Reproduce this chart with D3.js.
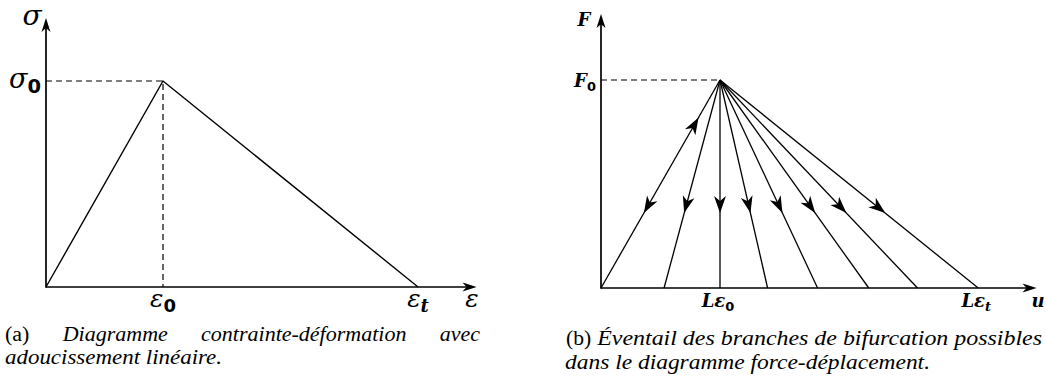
<!DOCTYPE html>
<html><head><meta charset="utf-8">
<script src="https://cdn.jsdelivr.net/npm/d3@7"></script>
<style>
body{margin:0;background:#fff}svg{display:block}
.cap{font-family:'Liberation Serif','Times New Roman','DejaVu Serif',serif;font-size:20px}
.m{font-family:'DejaVu Serif',serif}
.ms{font-family:'DejaVu Sans',sans-serif}
</style>
</head><body><svg id="c" width="1046" height="382"></svg>
<script>
// (a) stress-strain law with linear softening, normalised by ε0 and σ0
const strain = [0, 1, 3.18];
const stress = [0, 1, 0];
const strainTicks = [{ v: 1, base: "ε", sub: "0" }, { v: 3.18, base: "ε", sub: "t" }];

// (b) fan of possible bifurcation branches, normalised by Lε0 and F0
const peakU = 1, peakF = 1;
const branchEnds = [0, 0.53, 1, 1.40, 1.82, 2.25, 2.66, 3.17];
const dispTicks = [{ v: 1, base: "Lε", sub: "0" }, { v: 3.17, base: "Lε", sub: "t" }];

// captions
const capA1 = ["(a)", "Diagramme", "contrainte-déformation", "avec"];
const capA2 = "adoucissement linéaire.";
const capB1 = ["(b)", "Éventail des branches de bifurcation possibles"];
const capB2 = "dans le diagramme force-déplacement.";

const svg = d3.select("#c");

// stealth-style arrowhead with its tip at (x, y), pointing along angle a
function arrowHead(g, x, y, a, len = 15, half = 5) {
  const deg = a * 180 / Math.PI;
  g.append("path")
    .attr("d", `M0,0 L${-len},${-half} L${-len * 0.72},0 L${-len},${half} Z`)
    .attr("transform", `translate(${x},${y}) rotate(${deg})`)
    .attr("fill", "#000");
}

function axisArrows(g, xMax, yMax, sx, sy) {
  g.append("line").attr("x1", sx(0)).attr("y1", sy(0)).attr("x2", sx(xMax) - 4).attr("y2", sy(0))
    .attr("stroke", "#000").attr("stroke-width", 1.7);
  g.append("line").attr("x1", sx(0)).attr("y1", sy(0) + 0.8).attr("x2", sx(0)).attr("y2", sy(yMax) + 4)
    .attr("stroke", "#000").attr("stroke-width", 1.7);
  arrowHead(g, sx(xMax), sy(0), 0, 14, 4.5);
  arrowHead(g, sx(0), sy(yMax), -Math.PI / 2, 14, 4.5);
}

function mathLabel(g, x, y, base, sub, size, opts = {}) {
  const t = g.append("text").attr("x", x).attr("y", y)
    .attr("class", "m")
    .attr("text-anchor", opts.anchor || "middle")
    .attr("font-style", "italic")
    .attr("font-weight", opts.weight || "normal").attr("font-size", size);
  t.append("tspan").text(base);
  if (sub) {
    t.append("tspan").attr("dy", size * 0.2)
      .attr("class", opts.subItalic ? "m" : "ms")
      .attr("font-style", opts.subItalic ? "italic" : "normal")
      .attr("font-weight", "bold")
      .attr("font-size", size * 0.72).text(sub);
  }
  return t;
}

// ---------- (a) ----------
const gA = svg.append("g");
const xA = d3.scaleLinear().domain([0, 1]).range([46, 163]);
const yA = d3.scaleLinear().domain([0, 1]).range([287, 81]);

gA.append("path")
  .attr("d", d3.line().x((d, i) => xA(strain[i])).y(d => yA(d))(stress))
  .attr("fill", "none").attr("stroke", "#000").attr("stroke-width", 1.4);

// guide lines to the peak
gA.append("path")
  .attr("d", `M${xA(0)},${yA(1)}H${xA(strain[1])}V${yA(0)}`)
  .attr("fill", "none").attr("stroke", "#000").attr("stroke-width", 1.2)
  .attr("stroke-dasharray", "6,4");

axisArrows(gA, 3.68, 1.306, xA, yA);

mathLabel(gA, 32, 25, "σ", null, 28);
mathLabel(gA, 25, 88, "σ", "0", 27);
strainTicks.forEach(t => {
  mathLabel(gA, xA(t.v), 307, t.base, t.sub, 25, { subItalic: t.sub === "t" });
});
mathLabel(gA, 472, 307, "ε", null, 25);

// ---------- (b) ----------
const gB = svg.append("g");
const xB = d3.scaleLinear().domain([0, 1]).range([601, 720]);
const yB = d3.scaleLinear().domain([0, 1]).range([288, 80]);

gB.append("path")
  .attr("d", `M${xB(0)},${yB(peakF)}H${xB(peakU)}`)
  .attr("fill", "none").attr("stroke", "#000").attr("stroke-width", 1.2)
  .attr("stroke-dasharray", "6,4");

branchEnds.forEach((u, i) => {
  const x0 = xB(peakU), y0 = yB(peakF), x1 = xB(u), y1 = yB(0);
  gB.append("line").attr("x1", x0).attr("y1", y0).attr("x2", x1).attr("y2", y1)
    .attr("stroke", "#000").attr("stroke-width", 1.3);
  const a = Math.atan2(y1 - y0, x1 - x0);
  const f = 0.64;
  arrowHead(gB, x0 + (x1 - x0) * f, y0 + (y1 - y0) * f, a, 17, 6);
  if (i === 0) {
    // loading path up to the peak
    const g2 = 0.18;
    arrowHead(gB, x0 + (x1 - x0) * g2, y0 + (y1 - y0) * g2, a + Math.PI, 17, 6);
  }
});

axisArrows(gB, 3.66, 1.317, xB, yB);

mathLabel(gB, 584, 26, "F", null, 18, { weight: "bold" });
mathLabel(gB, 585, 87, "F", "0", 18, { weight: "bold" });
dispTicks.forEach(t => {
  mathLabel(gB, xB(t.v) - 2, 307, t.base, t.sub, 18, { weight: "bold", subItalic: t.sub === "t" });
});
mathLabel(gB, 1038, 307, "u", null, 18, { weight: "bold" });

// ---------- captions ----------
function capText(x, y, str, italic) {
  return svg.append("text").attr("x", x).attr("y", y).attr("class", "cap")
    .attr("font-style", italic ? "italic" : "normal").text(str);
}

// fits a line to the given width by stretching glyphs slightly
function fit(t, w) {
  t.attr("textLength", w).attr("lengthAdjust", "spacingAndGlyphs");
}

// justified first line of caption (a)
(function () {
  const left = 5, right = 480, y = 341;
  const words = capA1.map((w, i) => capText(0, y, w, i > 0));
  const widths = words.map(t => t.node().getComputedTextLength());
  const scale = 1.1;
  const total = d3.sum(widths) * scale;
  const gap = (right - left - total) / (words.length - 1);
  let x = left;
  words.forEach((t, i) => {
    t.attr("x", x);
    fit(t, widths[i] * scale);
    x += widths[i] * scale + gap;
  });
})();
fit(capText(5, 364, capA2, true), 217);

(function () {
  const y = 345;
  const a = capText(566, y, capB1[0], false);
  const wa = a.node().getComputedTextLength() * 1.08;
  fit(a, wa);
  const b = capText(566 + wa + 6, y, capB1[1], true);
  fit(b, 1042 - (566 + wa + 6));
})();
fit(capText(565, 369, capB2, true), 365);
</script>
</body></html>
